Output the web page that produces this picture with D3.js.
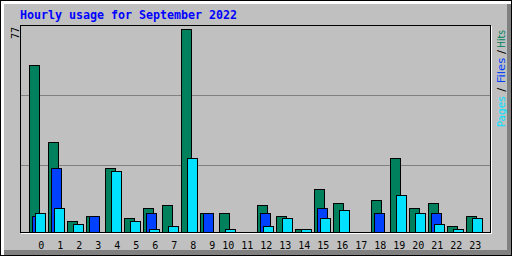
<!DOCTYPE html>
<html><head><meta charset="utf-8">
<script src="https://cdn.jsdelivr.net/npm/d3@7"></script>
<style>html,body{margin:0;padding:0;background:#c0c0c0;overflow:hidden}svg{display:block}</style>
</head><body>
<script>
// ---- data ----
const title = "Hourly usage for September 2022";
const hourLabels = ["0","1","2","3","4","5","6","7","8","9","10","11","12","13","14","15","16","17","18","19","20","21","22","23"];
const hits  = [63,34,4,6,24,5,9,10,77,7,7,0,10,6,1,16,11,0,12,28,9,11,2,6];
const files = [6,24,0,6,0,0,7,0,0,7,0,0,7,0,0,9,0,0,7,0,0,7,0,0];
const pages = [7,9,3,0,23,4,1,2,28,0,1,0,2,5,1,5,8,0,0,14,7,3,1,5];
const legendNames = ["Pages","Files","Hits"];

// ---- style ----
const C = {bg:"#c0c0c0", dk:"#808080", white:"#ffffff", black:"#000000",
  hits:"#00805c", files:"#0040ff", pages:"#00e0ff", title:"#0000ff"};
const W = 512, H = 256;
const maxVal = d3.max([...hits, ...files, ...pages]);

const svg = d3.select("body").append("svg").attr("width", W).attr("height", H)
  .attr("shape-rendering", "crispEdges");

function px(x, y, w, h, fill) {
  svg.append("rect").attr("x", x).attr("y", y).attr("width", w).attr("height", h).attr("fill", fill);
}

// background + 3D border
px(0, 0, W, H, C.bg);
px(1, 1, W - 2, 3, C.white);
px(1, 1, 3, H - 2, C.white);
px(4, 250, W - 5, 5, C.dk);
px(507, 4, 4, H - 5, C.dk);
svg.append("rect").attr("x", 0.5).attr("y", 0.5).attr("width", W - 1).attr("height", H - 1)
  .attr("fill", "none").attr("stroke", C.black);

// title
svg.append("text").attr("x", 20).attr("y", 19)
  .attr("font-family", "DejaVu Sans Mono").attr("font-weight", "bold").attr("font-size", 11.6)
  .attr("textLength", 217).attr("lengthAdjust", "spacingAndGlyphs")
  .attr("fill", C.title).text(title);

// scales
const x = d3.scaleBand().domain(hourLabels).range([29, 29 + 19 * 24]).paddingInner(0).paddingOuter(0);
const y = d3.scaleLinear().domain([0, maxVal]).range([232, 29]);

// grid lines
px(21, 95, 469, 1, C.dk);
px(21, 165, 469, 1, C.dk);

// plot frame
px(20, 25, 471, 1, C.black);
px(20, 25, 1, 208, C.black);
px(20, 232, 471, 1, C.black);
px(490, 25, 1, 208, C.black);
px(21, 233, 471, 1, C.white);
px(491, 26, 1, 208, C.white);

// bars
function drawSeries(vals, offset, color) {
  svg.append("g").selectAll("rect")
    .data(vals.map((v, i) => ({v, h: hourLabels[i]})).filter(d => d.v > 0))
    .join("rect")
    .attr("x", d => x(d.h) + offset + 0.5)
    .attr("y", d => Math.floor(y(d.v)) + 0.5)
    .attr("width", 10)
    .attr("height", d => 232 - Math.floor(y(d.v)))
    .attr("fill", color).attr("stroke", C.black).attr("stroke-width", 1)
    .attr("shape-rendering", "auto");
}
drawSeries(hits, 0, C.hits);
drawSeries(files, 3, C.files);
drawSeries(pages, 6, C.pages);

// x labels
svg.append("g").selectAll("text").data(hourLabels).join("text")
  .attr("x", (d, i) => x(d) + (d.length < 2 ? 12.3 : 9.3))
  .attr("y", 249)
  .attr("text-anchor", "middle")
  .attr("font-family", "DejaVu Sans Mono").attr("font-size", 10)
  .attr("fill", C.black).text(d => d);

// y max label
svg.append("text").attr("transform", "translate(19,39) rotate(-90)")
  .attr("font-family", "DejaVu Sans Mono").attr("font-size", 10)
  .attr("fill", C.black).text(String(maxVal));

// legend (rotated)
const legendParts = [
  {t: legendNames[0], y0: 127.3, len: 31, c: C.pages},
  {t: "/", y0: 91.7, len: 4, c: C.black},
  {t: legendNames[1], y0: 83.3, len: 25.5, c: C.files},
  {t: "/", y0: 54, len: 4, c: C.black},
  {t: legendNames[2], y0: 48, len: 18, c: C.hits}
];
svg.append("g").selectAll("text").data(legendParts).join("text")
  .attr("transform", d => `translate(504.5,${d.y0}) rotate(-90)`)
  .attr("font-family", "DejaVu Sans").attr("font-size", 10)
  .attr("textLength", d => d.len).attr("lengthAdjust", "spacingAndGlyphs")
  .attr("fill", d => d.c).text(d => d.t);
</script>
</body></html>
